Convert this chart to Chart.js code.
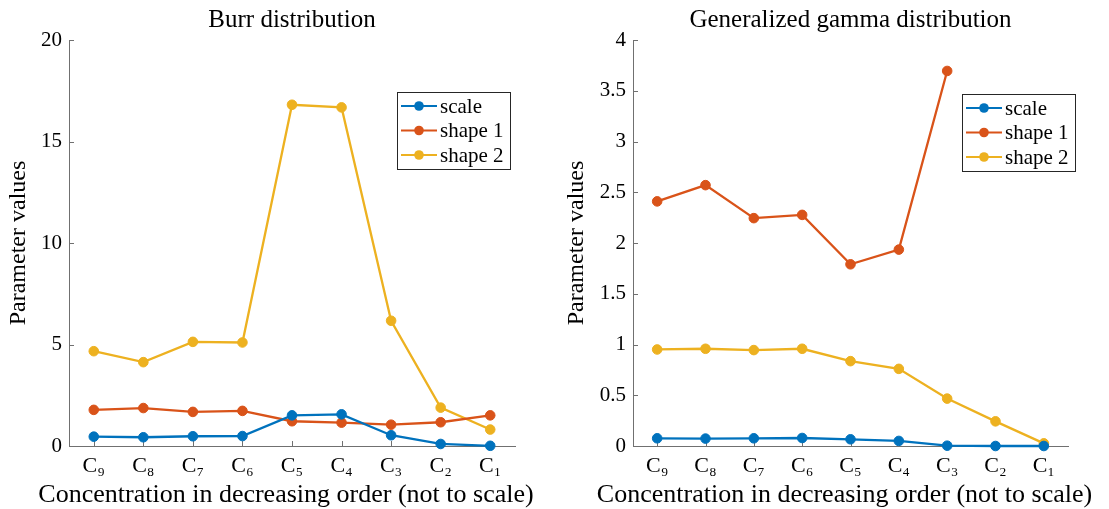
<!DOCTYPE html>
<html>
<head>
<meta charset="utf-8">
<script src="https://cdn.jsdelivr.net/npm/chart.js@4.4.0/dist/chart.umd.min.js"></script>
<style>
body{margin:0;background:#fff;}
#wrap{position:relative;width:1109px;height:509px;}
canvas{position:absolute;top:0;}
</style>
</head>
<body>
<div id="wrap">
<canvas id="burr" width="555" height="509" style="left:0"></canvas>
<canvas id="gamma" width="554" height="509" style="left:555px"></canvas>
</div>
<script>
// data
const categories = ["C₉","C₈","C₇","C₆","C₅","C₄","C₃","C₂","C₁"];
const seriesNames = ["scale","shape 1","shape 2"];

const burrScale  = [0.46,0.43,0.48,0.49,1.51,1.56,0.53,0.10,0.01];
const burrShape1 = [1.78,1.87,1.68,1.73,1.22,1.15,1.05,1.17,1.51];
const burrShape2 = [4.67,4.13,5.13,5.10,16.81,16.68,6.17,1.89,0.81];

const gammaScale  = [0.076,0.073,0.076,0.079,0.066,0.050,0.003,0.0,0.0];
const gammaShape1 = [2.41,2.57,2.245,2.277,1.79,1.935,3.695,null,null];
const gammaShape2 = [0.951,0.958,0.945,0.958,0.836,0.760,0.467,0.243,0.026];

const burrTicks  = [0,5,10,15,20];
const gammaTicks = [0,0.5,1,1.5,2,2.5,3,3.5,4];

const colors = ["#0072BD","#D95319","#EDB120"];
const axisColor = "#707070";
const fam = '"Liberation Serif", "DejaVu Serif", serif';
const xTitle = "Concentration in decreasing order (not to scale)";

// MATLAB style ticks pointing into the plot
const inTicks = {
  id:'inTicks',
  beforeDatasetsDraw(chart){
    const ctx = chart.ctx, a = chart.chartArea, xs = chart.scales.x, ys = chart.scales.y;
    ctx.save();
    ctx.strokeStyle = axisColor;
    ctx.lineWidth = 1;
    ctx.beginPath();
    xs.ticks.forEach((t,i)=>{
      const px = Math.round(xs.getPixelForTick(i)) + 0.5;
      ctx.moveTo(px, a.bottom);
      ctx.lineTo(px, a.bottom - 5);
    });
    ys.ticks.forEach((t,i)=>{
      const py = Math.round(ys.getPixelForTick(i)) + 0.5;
      ctx.moveTo(a.left, py);
      ctx.lineTo(a.left + 5, py);
    });
    ctx.stroke();
    ctx.restore();
  }
};

// x label wider than the axes, so draw it unsqueezed
const xLabel = {
  id:'xLabel',
  afterDraw(chart){
    const ctx = chart.ctx, a = chart.chartArea;
    ctx.save();
    ctx.fillStyle = '#000';
    ctx.font = '26px ' + fam;
    ctx.textAlign = 'center';
    ctx.textBaseline = 'alphabetic';
    ctx.fillText(xTitle, (a.left + a.right)/2 - 6, 502);
    ctx.restore();
  }
};

// boxed legend inside the axes
const legendBox = {
  id:'legendBox',
  afterDatasetsDraw(chart, args, opts){
    const ctx = chart.ctx, a = chart.chartArea;
    const x = Math.round(a.right + opts.dx), y = Math.round(a.top + opts.dy);
    const w = 113, h = 77;
    ctx.save();
    ctx.fillStyle = '#fff';
    ctx.fillRect(x, y, w, h);
    ctx.strokeStyle = '#262626';
    ctx.lineWidth = 1;
    ctx.strokeRect(x + 0.5, y + 0.5, w, h);
    chart.data.datasets.forEach((ds,i)=>{
      const cy = y + 14 + i*24.5;
      ctx.strokeStyle = ds.borderColor;
      ctx.lineWidth = 2.2;
      ctx.beginPath();
      ctx.moveTo(x + 4, cy);
      ctx.lineTo(x + 40, cy);
      ctx.stroke();
      ctx.fillStyle = ds.borderColor;
      ctx.beginPath();
      ctx.arc(x + 22, cy, 4.8, 0, Math.PI*2);
      ctx.fill();
      ctx.fillStyle = '#000';
      ctx.font = '21px ' + fam;
      ctx.textBaseline = 'middle';
      ctx.fillText(ds.label, x + 43, cy + 1);
    });
    ctx.restore();
  }
};

function makeChart(id, title, sets, ticks, yWidth, rightPad, titlePad, legendPos){
  return new Chart(document.getElementById(id), {
    type:'line',
    data:{
      labels:categories,
      datasets:sets.map((d,i)=>({
        label:seriesNames[i],
        data:d,
        borderColor:colors[i],
        backgroundColor:colors[i],
        borderWidth:2.3,
        pointRadius:4.8,
        pointHoverRadius:4.8,
        pointBorderWidth:1,
        tension:0,
        clip:false,
        spanGaps:false
      }))
    },
    options:{
      responsive:false,
      animation:false,
      events:[],
      layout:{padding:{left:0,right:rightPad,top:0,bottom:0}},
      plugins:{
        legend:{display:false},
        tooltip:{enabled:false},
        title:{display:true,text:title,fullSize:false,color:'#000',
          font:{family:fam,size:25,weight:'normal',lineHeight:1.2},
          padding:{top:5,bottom:5}},
        legendBox:legendPos
      },
      scales:{
        x:{
          offset:true,
          grid:{display:false,drawTicks:false,offset:false},
          border:{display:true,color:axisColor,width:1},
          ticks:{color:'#000',font:{family:fam,size:22},padding:7,maxRotation:0,autoSkip:false},
          afterFit:s=>{ s.height = 63; }
        },
        y:{
          min:ticks[0],
          max:ticks[ticks.length-1],
          grid:{display:false,drawTicks:false},
          border:{display:true,color:axisColor,width:1},
          ticks:{color:'#000',font:{family:fam,size:21},padding:7,callback:v=>String(v)},
          afterBuildTicks:s=>{ s.ticks = ticks.map(v=>({value:v})); },
          title:{display:true,text:'Parameter values',color:'#000',font:{family:fam,size:24,lineHeight:1.2},padding:{top:titlePad,bottom:0}},
          afterFit:s=>{ s.width = yWidth; }
        }
      }
    },
    plugins:[inTicks, legendBox, xLabel]
  });
}

makeChart('burr', 'Burr distribution', [burrScale,burrShape1,burrShape2], burrTicks, 69, 40, 4.3, {dx:-118, dy:52});
makeChart('gamma', 'Generalized gamma distribution', [gammaScale,gammaShape1,gammaShape2], gammaTicks, 78, 41, 7.6, {dx:-106, dy:54});
</script>
</body>
</html>
